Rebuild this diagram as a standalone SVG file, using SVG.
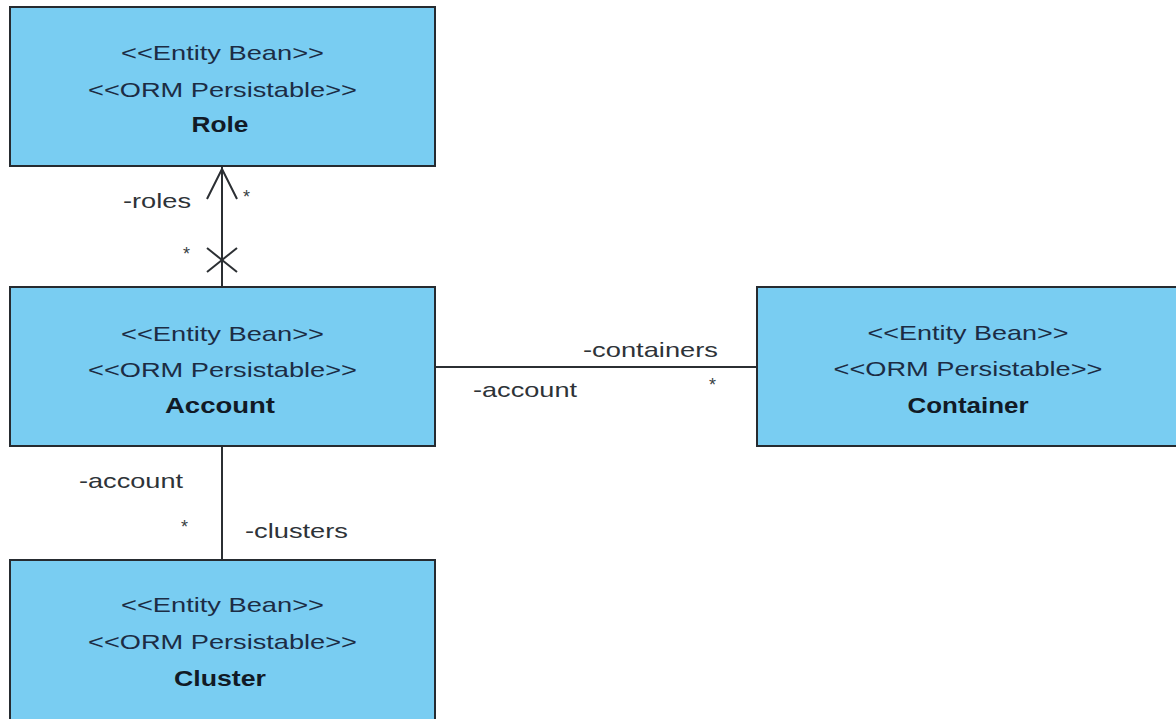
<svg xmlns="http://www.w3.org/2000/svg" width="1176" height="719" viewBox="0 0 1176 719">
  <style>
    .box { fill: #79cdf2; stroke: #262b30; stroke-width: 2; }
    .st { font-family: "Liberation Sans", Arial, sans-serif; font-size: 21px; fill: #1c2c44; text-anchor: middle; }
    .nm { font-family: "Liberation Sans", Arial, sans-serif; font-size: 22px; font-weight: bold; fill: #111a26; text-anchor: middle; }
    .lbl { font-family: "Liberation Sans", Arial, sans-serif; font-size: 21px; fill: #2e3338; }
    .mult { font-family: "Liberation Sans", Arial, sans-serif; font-size: 18px; fill: #3a3f44; }
    .edge { stroke: #2b2f33; stroke-width: 2; fill: none; }
  </style>
  <rect width="1176" height="719" fill="#ffffff"/>

  <g id="connectors">
    <!-- Account to Role: navigable, non-navigable end marked with a cross -->
    <line class="edge" x1="222" y1="167" x2="222" y2="287"/>
    <polyline class="edge" points="207,199 222,169 237,199"/>
    <line class="edge" x1="207" y1="248" x2="237" y2="272"/>
    <line class="edge" x1="237" y1="248" x2="207" y2="272"/>
    <text class="lbl" x="123" y="208" textLength="68" lengthAdjust="spacingAndGlyphs">-roles</text>
    <text class="mult" x="243" y="203">*</text>
    <text class="mult" x="183" y="260">*</text>

    <!-- Account to Container -->
    <line class="edge" x1="435" y1="367" x2="757" y2="367"/>
    <text class="lbl" x="583" y="357" textLength="135" lengthAdjust="spacingAndGlyphs">-containers</text>
    <text class="lbl" x="473" y="397" textLength="104" lengthAdjust="spacingAndGlyphs">-account</text>
    <text class="mult" x="709" y="391">*</text>

    <!-- Account to Cluster -->
    <line class="edge" x1="222" y1="446" x2="222" y2="560"/>
    <text class="lbl" x="79" y="488" textLength="104" lengthAdjust="spacingAndGlyphs">-account</text>
    <text class="mult" x="181" y="533">*</text>
    <text class="lbl" x="245" y="538" textLength="103" lengthAdjust="spacingAndGlyphs">-clusters</text>
  </g>

  <g id="role">
    <rect class="box" x="10" y="7" width="425" height="159"/>
    <text class="st" x="222.5" y="60" textLength="203" lengthAdjust="spacingAndGlyphs">&lt;&lt;Entity Bean&gt;&gt;</text>
    <text class="st" x="222.5" y="97" textLength="269" lengthAdjust="spacingAndGlyphs">&lt;&lt;ORM Persistable&gt;&gt;</text>
    <text class="nm" x="220" y="132" textLength="57" lengthAdjust="spacingAndGlyphs">Role</text>
  </g>

  <g id="account">
    <rect class="box" x="10" y="287" width="425" height="159"/>
    <text class="st" x="222.5" y="341" textLength="203" lengthAdjust="spacingAndGlyphs">&lt;&lt;Entity Bean&gt;&gt;</text>
    <text class="st" x="222.5" y="377" textLength="269" lengthAdjust="spacingAndGlyphs">&lt;&lt;ORM Persistable&gt;&gt;</text>
    <text class="nm" x="220" y="413" textLength="110" lengthAdjust="spacingAndGlyphs">Account</text>
  </g>

  <g id="container">
    <rect class="box" x="757" y="287" width="425" height="159"/>
    <text class="st" x="968" y="340" textLength="201" lengthAdjust="spacingAndGlyphs">&lt;&lt;Entity Bean&gt;&gt;</text>
    <text class="st" x="968" y="376" textLength="269" lengthAdjust="spacingAndGlyphs">&lt;&lt;ORM Persistable&gt;&gt;</text>
    <text class="nm" x="968" y="413" textLength="121" lengthAdjust="spacingAndGlyphs">Container</text>
  </g>

  <g id="cluster">
    <rect class="box" x="10" y="560" width="425" height="165"/>
    <text class="st" x="222.5" y="612" textLength="203" lengthAdjust="spacingAndGlyphs">&lt;&lt;Entity Bean&gt;&gt;</text>
    <text class="st" x="222.5" y="649" textLength="269" lengthAdjust="spacingAndGlyphs">&lt;&lt;ORM Persistable&gt;&gt;</text>
    <text class="nm" x="220" y="686" textLength="92" lengthAdjust="spacingAndGlyphs">Cluster</text>
  </g>
</svg>
